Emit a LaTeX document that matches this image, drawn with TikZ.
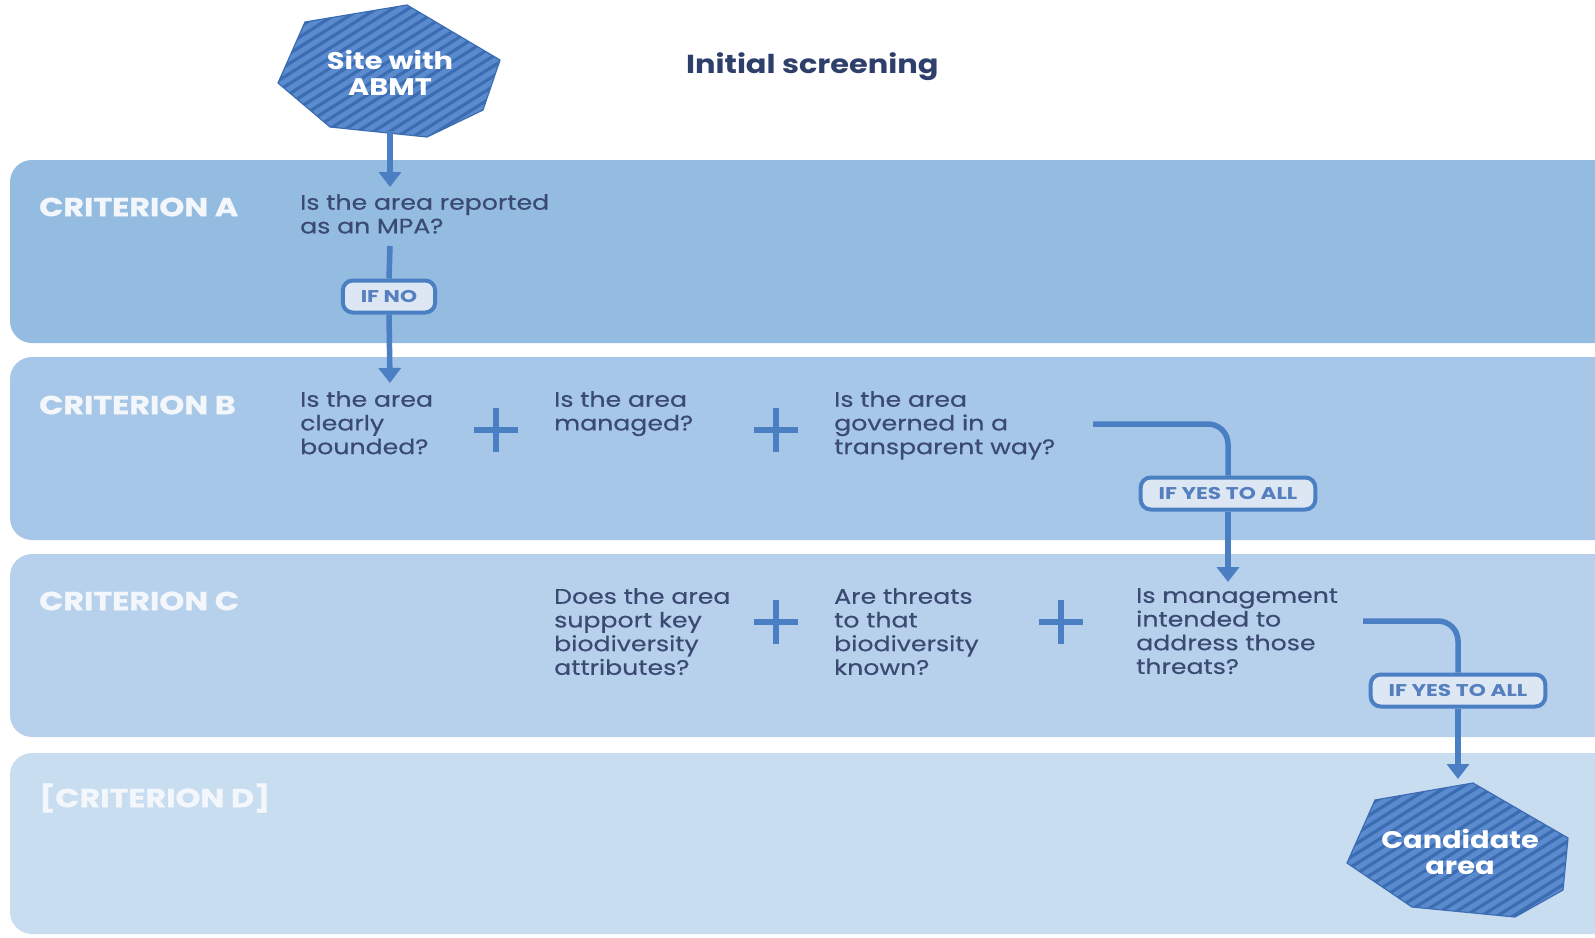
\documentclass[tikz,border=0pt]{standalone}
\usepackage{fontspec}
\setmainfont{Poppins}
\newfontfamily\qfont[FakeStretch=1.2,FakeBold=0.4]{Poppins}
\newfontfamily\critfont[FakeStretch=1.22,FakeBold=1]{Poppins Bold}
\newfontfamily\titlefont[FakeStretch=1.17]{Poppins Bold}
\newfontfamily\hexfont[FakeStretch=1.2]{Poppins Bold}
\newfontfamily\tagfont[FakeStretch=1.28]{Poppins Bold}
\usetikzlibrary{arrows.meta}
\definecolor{bandA}{HTML}{94BBE0}
\definecolor{bandB}{HTML}{A6C7E7}
\definecolor{bandC}{HTML}{B7D1EC}
\definecolor{bandD}{HTML}{C9DDF1}
\definecolor{flow}{HTML}{4A7FC4}
\definecolor{navy}{HTML}{3A4A72}
\definecolor{titlec}{HTML}{2F3F6B}
\definecolor{hexfill}{HTML}{5A8BCF}
\definecolor{hexline}{HTML}{3C6DB2}
\definecolor{tagfill}{HTML}{DDE7F3}
\definecolor{tagtext}{HTML}{557FBF}
\definecolor{lbl}{HTML}{F3F7FC}
\tikzset{
  band/.style={rounded corners=22},
  crit/.style={anchor=west, inner sep=0, text=lbl, font=\fontsize{26}{30}\critfont},
  quest/.style={anchor=north west, inner sep=0, align=left, text=navy, font=\fontsize{21}{23.7}\qfont},
  arr/.style={draw=flow, line width=5.5, -{Triangle[width=22,length=15]}},
  flowline/.style={draw=flow, line width=5.5},
  tag/.style={draw=flow, fill=tagfill, line width=4, rounded corners=10, minimum height=32, inner xsep=18, text=tagtext, font=\fontsize{17}{19}\tagfont},
  plusline/.style={draw=flow, line width=6},
  hextext/.style={align=center, text=white, font=\fontsize{24}{25.5}\hexfont, inner sep=0},
  stripe/.style={draw=hexline, line width=3.2},
}
\begin{document}
\begin{tikzpicture}[x=1pt,y=-1pt]
\useasboundingbox (0,0) rectangle (1595,937);
\clip (0,0) rectangle (1595,937);
\fill[white] (0,0) rectangle (1595,937);
% bands
\fill[bandA, band] (10,160) rectangle (1650,343);
\fill[bandB, band] (10,357) rectangle (1650,540);
\fill[bandC, band] (10,554) rectangle (1650,737);
\fill[bandD, band] (10,753) rectangle (1650,934);
% criterion labels
\node[crit] (cA) at (39,207) {CRITERION A};
\node[crit] (cB) at (39,405) {CRITERION B};
\node[crit] (cC) at (39,601) {CRITERION C};
\node[crit] (cD) at (39,798) {[CRITERION D]};
% title
\node[anchor=west, inner sep=0, text=titlec, font=\fontsize{26}{30}\titlefont] (title) at (686,67) {Initial screening};
% hexagon: site
\fill[hexfill] (305,22) -- (407,5) -- (500,60) -- (483,110) -- (427,137) -- (330,127) -- (278,83) -- cycle;
\begin{scope}
\clip (305,22) -- (407,5) -- (500,60) -- (483,110) -- (427,137) -- (330,127) -- (278,83) -- cycle;
\foreach \k in {-25,...,25} \draw[stripe] ({388+\k*16-200},{72+126}) -- ++(400,-252);
\end{scope}
\draw[hexline, line width=1.2] (305,22) -- (407,5) -- (500,60) -- (483,110) -- (427,137) -- (330,127) -- (278,83) -- cycle;
\node[hextext] (site) at (390,73) {Site with\\ABMT};
% hexagon: candidate
\fill[hexfill] (1375,800) -- (1473,783) -- (1568,838) -- (1563,890) -- (1515,917) -- (1412,907) -- (1347,863) -- cycle;
\begin{scope}
\clip (1375,800) -- (1473,783) -- (1568,838) -- (1563,890) -- (1515,917) -- (1412,907) -- (1347,863) -- cycle;
\foreach \k in {-25,...,25} \draw[stripe] ({1458+\k*16-200},{850+126}) -- ++(400,-252);
\end{scope}
\draw[hexline, line width=1.2] (1375,800) -- (1473,783) -- (1568,838) -- (1563,890) -- (1515,917) -- (1412,907) -- (1347,863) -- cycle;
\node[hextext] (cand) at (1460,852) {Candidate\\area};
% questions
\node[quest] (qA) at (300,194) {Is the area reported\\as an MPA?};
\node[quest] (qB1) at (300,391) {Is the area\\clearly\\bounded?};
\node[quest] (qB2) at (554,391) {Is the area\\managed?};
\node[quest] (qB3) at (834,391) {Is the area\\governed in a\\transparent way?};
\node[quest] (qC1) at (554,588) {Does the area\\support key\\biodiversity\\attributes?};
\node[quest] (qC2) at (834,588) {Are threats\\to that\\biodiversity\\known?};
\node[quest] (qC3) at (1136,588) {Is management\\intended to\\address those\\threats?};
% plus signs
\foreach \px/\py in {496/430, 776/430, 776/622, 1061/622}
  \draw[plusline] (\px-22,\py) -- (\px+22,\py) (\px,\py-22) -- (\px,\py+22);
% tags
\node[tag] (tagNo) at (389,296.5) {IF NO};
\node[tag] (tagB) at (1228,493.5) {IF YES TO ALL};
\node[tag] (tagC) at (1458,690.5) {IF YES TO ALL};
% coordinates
\coordinate (siteB) at (390,131);
\coordinate (aEnd) at (390,187);
\coordinate (aStart) at (390,246);
\coordinate (bEnd) at (390,383);
\coordinate (bStart) at (1093,424);
\coordinate (cEnd) at (1228,582);
\coordinate (cStart) at (1363,621);
\coordinate (dEnd) at (1458,779);
% connectors
\draw[arr] (siteB) -- (aEnd);
\draw[flowline] (aStart) -- (tagNo.north);
\draw[arr] (tagNo.south) -- (bEnd);
\draw[flowline, rounded corners=20] (bStart) -| (tagB.north);
\draw[arr] (tagB.south) -- (cEnd);
\draw[flowline, rounded corners=20] (cStart) -| (tagC.north);
\draw[arr] (tagC.south) -- (dEnd);
\end{tikzpicture}
\end{document}
